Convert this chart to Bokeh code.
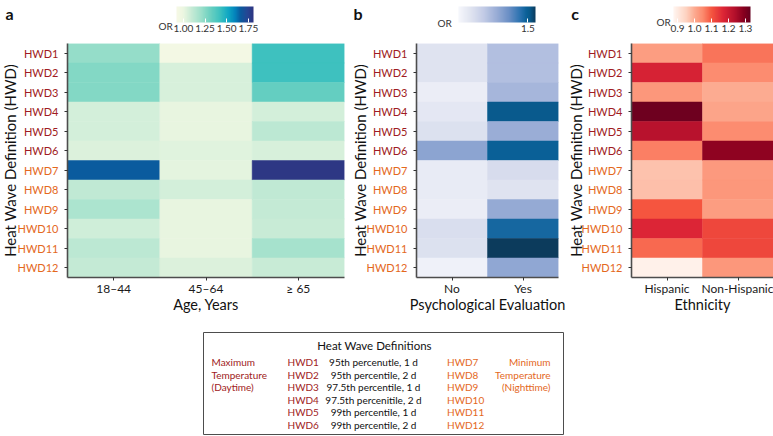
import math
import numpy as np
from bokeh.plotting import figure
from bokeh.models import (FactorRange, Range1d, LinearColorMapper, ColorBar, FixedTicker,
                          PrintfTickFormatter, Label, Spacer, ColumnDataSource, AllLabels)
from bokeh.layouts import row, column
from bokeh.transform import transform
from bokeh.core.properties import value
from bokeh.embed import file_html
from bokeh.resources import INLINE

# ---------------- data ----------------
hwd = ["HWD1", "HWD2", "HWD3", "HWD4", "HWD5", "HWD6",
       "HWD7", "HWD8", "HWD9", "HWD10", "HWD11", "HWD12"]

age_groups = ["18–44", "45–64", "≥ 65"]
or_age_18_44 = [1.22, 1.26, 1.26, 1.06, 1.06, 1.04, 1.66, 1.11, 1.16, 1.07, 1.12, 1.10]
or_age_45_64 = [0.95, 1.05, 1.05, 1.01, 1.01, 1.03, 1.02, 1.06, 1.01, 1.01, 1.01, 1.04]
or_age_65 = [1.42, 1.42, 1.33, 1.06, 1.12, 1.05, 1.80, 1.11, 1.10, 1.09, 1.18, 1.09]

psych_groups = ["No", "Yes"]
or_psych_no = [1.05, 1.05, 1.00, 1.03, 1.06, 1.28, 1.01, 1.01, 1.00, 1.07, 1.06, 0.98]
or_psych_yes = [1.19, 1.19, 1.22, 1.51, 1.25, 1.49, 1.08, 1.05, 1.26, 1.47, 1.56, 1.27]

eth_groups = ["Hispanic", "Non-Hispanic"]
or_eth_hisp = [1.02, 1.18, 1.03, 1.32, 1.23, 1.06, 0.97, 0.975, 1.10, 1.17, 1.08, 0.885]
or_eth_nonhisp = [1.07, 1.045, 1.00, 1.01, 1.045, 1.28, 1.025, 1.03, 1.02, 1.12, 1.12, 1.03]

ticks_a = [1.00, 1.25, 1.50, 1.75]
ticks_b = [1.5]
ticks_c = [0.9, 1.0, 1.1, 1.2, 1.3]

legend_title = "Heat Wave Definitions"
max_group = ["Maximum", "Temperature", "(Daytime)"]
min_group = ["Minimum", "Temperature", "(Nighttime)"]
day_defs = ["HWD1", "HWD2", "HWD3", "HWD4", "HWD5", "HWD6"]
night_defs = ["HWD7", "HWD8", "HWD9", "HWD10", "HWD11", "HWD12"]
def_texts = ["95th percenutle, 1 d", "95th percentile, 2 d", "97.5th percentile, 1 d",
             "97.5th percenitile, 2 d", "99th percentile, 1 d", "99th percentile, 2 d"]

# ---------------- styles ----------------
RED = "#a01b22"
ORANGE = "#e4681d"
FONT = "Lato"
FONT_V = value(FONT)
AXIS_COL = "#4d4d4d"

stops_a = [(0.92, "#f7f9e6"), (1.00, "#ebf6e1"), (1.10, "#c3ead5"), (1.20, "#9ee0cb"),
           (1.30, "#70d2c1"), (1.42, "#3ec1bf"), (1.52, "#0fa7c4"), (1.60, "#0382bb"),
           (1.66, "#0a5b9e"), (1.74, "#254694"), (1.81, "#2e3582")]
stops_b = [(0.95, "#f6f7fc"), (1.05, "#dfe3f0"), (1.15, "#c2cbe6"), (1.25, "#9aadd6"),
           (1.35, "#6a8fc5"), (1.44, "#2a72b0"), (1.49, "#0a6097"), (1.52, "#08588a"),
           (1.56, "#0c3b5c")]
stops_c = [(0.876, "#fff5f0"), (0.95, "#fdd3c1"), (1.00, "#fcaa90"), (1.05, "#fc896c"),
           (1.10, "#f5553f"), (1.17, "#dc2536"), (1.24, "#b20f2b"), (1.29, "#87001f"),
           (1.33, "#67001f")]


def hex2rgb(h):
    return tuple(int(h[i:i + 2], 16) for i in (1, 3, 5))


def build_palette(stops, n=256):
    vals = [s[0] for s in stops]
    cols = [hex2rgb(s[1]) for s in stops]
    low, high = vals[0], vals[-1]
    pal = []
    for k in range(n):
        v = low + (high - low) * k / (n - 1)
        rgb = [np.interp(v, vals, [c[j] for c in cols]) for j in range(3)]
        pal.append("#%02x%02x%02x" % tuple(int(round(x)) for x in rgb))
    return pal, low, high


HEAD_H = 43      # header strip (letter, colour bar)
FRAME_H = 234    # heat-map frame height
BOTTOM = 54      # x axis area
HEAT_BL = 8      # heat-map figure left border (ticks)


def plain(p):
    p.axis.visible = False
    p.grid.visible = False
    p.outline_line_color = None
    p.background_fill_color = "white"
    p.border_fill_color = "white"


def make_panel(letter, cats, series, xlabel, stops, ticks, fmt, label_w, heat_w, br,
               cb_x, letter_x, or_x, or_base, title_x):
    total_w = label_w + heat_w
    pal, low, high = build_palette(stops)
    mapper = LinearColorMapper(palette=pal, low=low, high=high)

    # ---- header: panel letter, OR title, colour bar
    head = figure(width=total_w, height=HEAD_H, x_range=Range1d(0, total_w),
                  y_range=Range1d(HEAD_H, 0), toolbar_location=None,
                  output_backend="svg", min_border=0)
    plain(head)
    head.add_layout(Label(x=letter_x, y=12.7, text=letter, text_font=FONT,
                          text_font_style="bold", text_font_size="16px",
                          text_color="#111111", text_baseline="alphabetic"))
    head.add_layout(Label(x=or_x, y=or_base, text="OR", text_font=FONT,
                          text_font_size="10px", text_color="#333333",
                          text_baseline="alphabetic"))
    cb = ColorBar(color_mapper=mapper, orientation="horizontal", width=77, height=16,
                  location=(cb_x, 9), ticker=FixedTicker(ticks=ticks),
                  formatter=PrintfTickFormatter(format=fmt), padding=0, margin=0,
                  label_standoff=2, major_label_text_font=FONT,
                  major_label_text_font_size="10px", major_label_text_color="#333333",
                  major_label_policy=AllLabels(),
                  major_tick_line_color="white", major_tick_in=4, major_tick_out=0,
                  bar_line_color=None, border_line_color=None,
                  background_fill_alpha=0)
    head.add_layout(cb, "center")

    # ---- row labels and y title
    lab = figure(width=label_w, height=FRAME_H + BOTTOM, x_range=Range1d(0, label_w),
                 y_range=FactorRange(factors=hwd[::-1]), toolbar_location=None,
                 output_backend="svg", min_border_left=0, min_border_right=0,
                 min_border_top=0, min_border_bottom=BOTTOM)
    plain(lab)
    lab_src = ColumnDataSource(dict(
        x=[label_w + HEAT_BL - 9] * len(hwd), y=hwd, t=hwd,
        c=[RED if i < 6 else ORANGE for i in range(len(hwd))]))
    lab.text(x="x", y="y", text="t", text_color="c", source=lab_src,
             text_align="right", text_baseline="middle", text_font=FONT_V,
             text_font_size="11px")
    lab.add_layout(Label(x=title_x, y=len(hwd) / 2, text="Heat Wave Definition (HWD)",
                         angle=math.pi / 2, text_align="center", text_baseline="middle",
                         text_font=FONT, text_font_size="15px", text_color="#111111"))

    # ---- heat map
    xs, ys, vs = [], [], []
    for c, vals in zip(cats, series):
        for h, v in zip(hwd, vals):
            xs.append(c)
            ys.append(h)
            vs.append(v)
    src = ColumnDataSource(dict(x=xs, y=ys, v=vs))
    p = figure(width=heat_w, height=FRAME_H + BOTTOM, x_range=FactorRange(factors=cats),
               y_range=lab.y_range, toolbar_location=None,
               output_backend="svg", min_border_left=HEAT_BL, min_border_right=br,
               min_border_top=0, min_border_bottom=BOTTOM)
    p.rect(x="x", y="y", width=1, height=1, source=src,
           fill_color=transform("v", mapper), line_color=transform("v", mapper),
           line_width=0.5)
    p.grid.visible = False
    p.outline_line_color = None
    p.background_fill_color = "white"
    p.border_fill_color = "white"
    for ax in (p.xaxis[0], p.yaxis[0]):
        ax.axis_line_color = AXIS_COL
        ax.axis_line_width = 1.6
        ax.major_tick_line_color = "#333333"
        ax.major_tick_out = 3
        ax.major_tick_in = 0
        ax.minor_tick_line_color = None
    p.xaxis.major_label_text_font = FONT
    p.xaxis.major_label_text_font_size = "12px"
    p.xaxis.major_label_text_color = "#1a1a1a"
    p.xaxis.major_label_standoff = 0
    p.xaxis.axis_label = xlabel
    p.xaxis.axis_label_text_font = FONT
    p.xaxis.axis_label_text_font_size = "14.5px"
    p.xaxis.axis_label_text_font_style = "normal"
    p.xaxis.axis_label_text_color = "#111111"
    p.xaxis.axis_label_standoff = -3
    # the row names are written by the label strip to the left (two colours);
    # the axis itself keeps only its ticks and line
    p.yaxis.major_label_text_font_size = "1px"
    p.yaxis.major_label_text_alpha = 0
    p.yaxis.major_label_standoff = 0

    return column(head, row(lab, p, spacing=0), spacing=0)


pa = make_panel("a", age_groups, [or_age_18_44, or_age_45_64, or_age_65], "Age, Years",
                stops_a, ticks_a, "%.2f", 59, 291, 6, 176, 5, 158, 25, 9)
pb = make_panel("b", psych_groups, [or_psych_no, or_psych_yes], "Psychological Evaluation",
                stops_b, ticks_b, "%.1f", 58, 158, 8, 108, 3, 87, 22.7, 9)
pc = make_panel("c", eth_groups, [or_eth_hisp, or_eth_nonhisp], "Ethnicity",
                stops_c, ticks_c, "%.1f", 57, 150, 0, 107, 4.7, 90, 21.7, 9)

# ---------------- legend box ----------------
LW, LH = 360, 102
leg = figure(width=LW + 2, height=LH + 2, x_range=Range1d(0, LW), y_range=Range1d(0, LH),
             toolbar_location=None, output_backend="svg", min_border=1)
leg.axis.visible = False
leg.grid.visible = False
leg.outline_line_color = "#4d4d4d"
leg.outline_line_width = 1


def ltext(x, y, t, color, align="left", size="10px"):
    leg.add_layout(Label(x=x, y=LH - y, text=t, text_align=align, text_baseline="middle",
                         text_font=FONT, text_font_size=size, text_color=color))


ltext(171, 13, legend_title, "#111111", "center", "11.5px")
rows_y = [29.7, 42, 54.7, 67, 79.7, 92.3]
for i in range(3):
    ltext(8, rows_y[i], max_group[i], RED)
    ltext(347, rows_y[i], min_group[i], ORANGE, "right")
for i in range(6):
    ltext(84, rows_y[i], day_defs[i], RED)
    ltext(170, rows_y[i], def_texts[i], "#111111", "center")
    ltext(243.5, rows_y[i], night_defs[i], ORANGE)

layout = column(row(pa, pb, pc, spacing=0),
                row(Spacer(width=202, height=LH + 2), leg, spacing=0), spacing=0)

open("out.html", "w").write(file_html(layout, INLINE))
